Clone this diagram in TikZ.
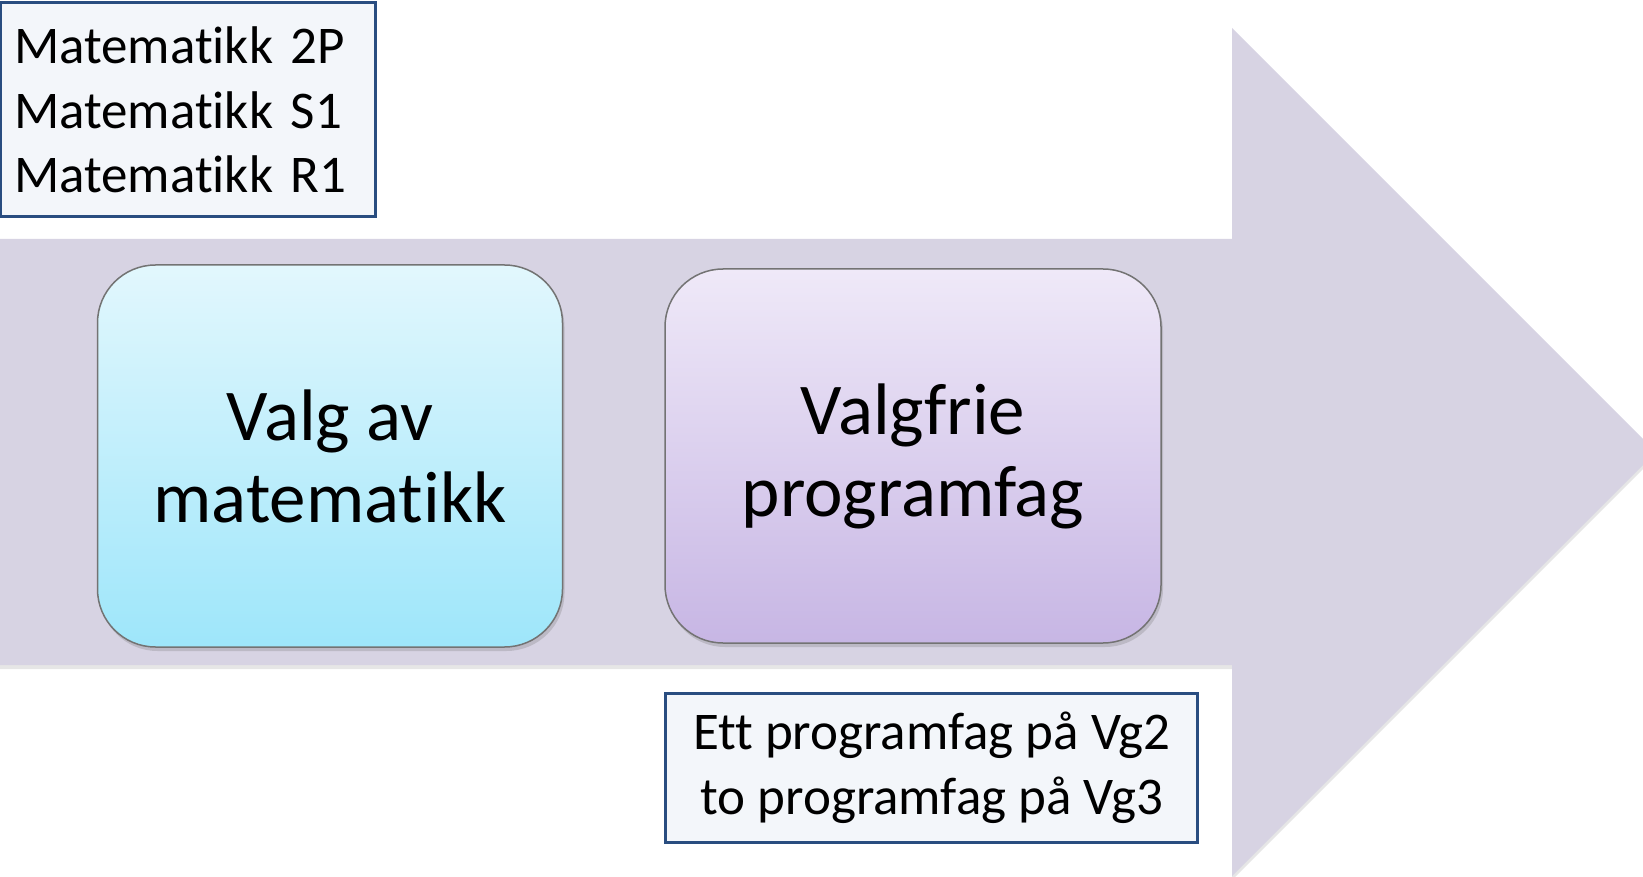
\documentclass[tikz,border=0pt]{standalone}
\usepackage{fontspec}
\setmainfont{Carlito}[Ligatures={NoCommon}, RawFeature={-liga;-clig;-calt}]
\usetikzlibrary{positioning, shadows}

\definecolor{pilfarge}{RGB}{215,211,227}
\definecolor{kantblaa}{RGB}{41,77,128}
\definecolor{boksfyll}{RGB}{243,246,250}
\definecolor{cyantopp}{RGB}{226,247,253}
\definecolor{cyanbunn}{RGB}{158,230,250}
\definecolor{lillatopp}{RGB}{239,233,248}
\definecolor{lillabunn}{RGB}{199,182,228}

\begin{document}
\begin{tikzpicture}[x=0.5pt,y=-0.5pt,node distance=291.5pt,semithick]
\tikzstyle{hovedboks}=[draw=black!55, line width=0.75pt, rounded corners=29pt, align=center,
                       font=\fontsize{36.5}{41}\selectfont,
                       drop shadow={shadow xshift=1pt, shadow yshift=-2pt, opacity=0.3}]
\tikzstyle{infoboks}=[draw=kantblaa, fill=boksfyll, line width=1.5pt,
                      font=\fontsize{26.5}{32.2}\selectfont]

\useasboundingbox (0,0) rectangle (1643,877);
\clip (0,0) rectangle (1643,877);

        % pila bak boksene
        \fill[pilfarge, drop shadow={shadow xshift=0pt, shadow yshift=-2pt, opacity=0.2}]
            (0,239) -- (1232,239) -- (1232,28) -- (1656,452) -- (1232,876) -- (1232,665) -- (0,665) -- cycle;

        \node[hovedboks, top color=cyantopp, bottom color=cyanbunn, minimum width=232.5pt, minimum height=191pt]     (valg)  at (330,456)       {Valg av\\matematikk};
        \node[hovedboks, top color=lillatopp, bottom color=lillabunn, minimum width=248pt, minimum height=187pt]    (prog)  [right of=valg]    {Valgfrie\\programfag};

        \node[infoboks, inner xsep=7pt, text width=173.5pt, minimum height=107pt, align=left]                      (matte) at (187.5,110)     {Matematikk 2P\\Matematikk S1\\Matematikk R1};
        \node[infoboks, minimum width=266pt, minimum height=74.5pt, align=center, below=24pt of prog.south west, anchor=north west]
                                                                                                                  (vg)                       {Ett programfag på Vg2\\to programfag på Vg3};

\end{tikzpicture}
\end{document}
